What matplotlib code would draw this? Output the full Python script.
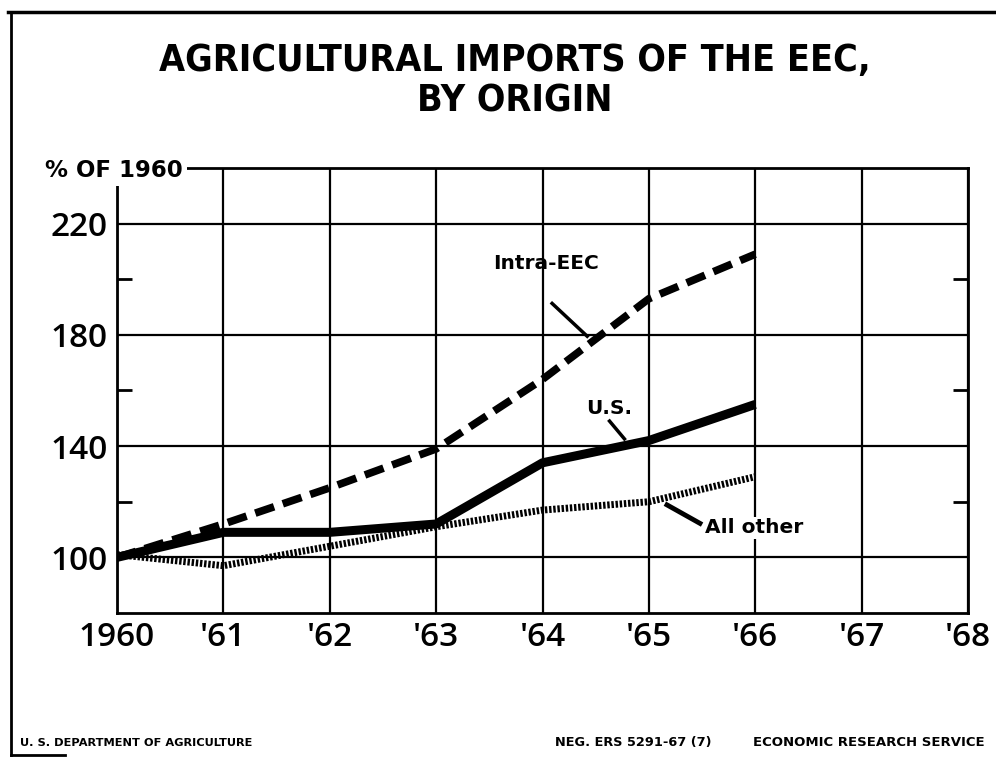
import matplotlib
matplotlib.use("Agg")
import matplotlib.pyplot as plt
from matplotlib.lines import Line2D

years = [1960, 1961, 1962, 1963, 1964, 1965, 1966]
intra_eec = [100, 112, 125, 139, 164, 193, 209]
us = [100, 109, 109, 112, 134, 142, 155]
all_other = [101, 97, 104, 111, 117, 120, 129]

x_ticks = [1960, 1961, 1962, 1963, 1964, 1965, 1966, 1967, 1968]
x_labels = ["1960", "'61", "'62", "'63", "'64", "'65", "'66", "'67", "'68"]
y_ticks = [100, 140, 180, 220]
y_minor = [120, 160, 200]

tick_font = dict(family=["Open Sans", "DejaVu Sans"], weight="semibold")

fig = plt.figure(figsize=(9.96, 7.58), dpi=100)
ax = fig.add_axes([0.1175, 0.1913, 0.9719 - 0.1175, 0.7784 - 0.1913])

ax.set_xlim(1960, 1968)
ax.set_ylim(80, 240)
ax.set_xticks(x_ticks)
ax.set_xticklabels(x_labels, fontsize=24, **tick_font)
ax.set_yticks(y_ticks)
ax.set_yticklabels([str(v) for v in y_ticks], fontsize=24, **tick_font)
ax.set_yticks(y_minor, minor=True)
ax.tick_params(axis="x", which="major", length=0, pad=6)
ax.tick_params(axis="y", which="major", length=0, pad=7)
ax.tick_params(axis="y", which="minor", direction="in", length=11, width=2,
               left=True, right=True)
ax.grid(True, which="major", color="black", linewidth=1.6)
for s in ax.spines.values():
    s.set_linewidth(2)
ax.set_axisbelow(True)

ax.plot(years, intra_eec, color="black", linewidth=5.5,
        linestyle=(0, (2.6, 1.2)), dash_capstyle="butt", zorder=3)
ax.plot(years, us, color="black", linewidth=6.5, solid_capstyle="butt", zorder=3)
ax.plot(years, all_other, color="black", linewidth=5,
        linestyle=(0, (0.35, 0.25)), dash_capstyle="butt", zorder=3)

# labels
ax.text(1964.03, 205.6, "Intra-EEC", fontsize=14.5, fontweight="bold",
        ha="center", va="center")
ax.text(1964.63, 153.4, "U.S.", fontsize=14.5, fontweight="bold",
        ha="center", va="center")
ax.text(1965.53, 110.7, "All other", fontsize=14.5, fontweight="bold",
        ha="left", va="center", zorder=5,
        bbox=dict(facecolor="white", edgecolor="none", pad=1))
ax.plot([1964.09, 1964.42], [191.3, 179.5], color="black", linewidth=2.5, zorder=4)
ax.plot([1964.63, 1964.77], [149.0, 142.6], color="black", linewidth=2.5, zorder=4)
ax.plot([1965.15, 1965.5], [119.3, 111.8], color="black", linewidth=3.5,
        solid_capstyle="butt", zorder=4)

ax.text(1959.32, 239.0, "% OF 1960", fontsize=16.5, fontweight="bold",
        ha="left", va="center", zorder=6, clip_on=False,
        bbox=dict(facecolor="white", edgecolor="none", pad=3))

title_font = dict(family=["DejaVu Sans"], fontweight="bold",
                  fontstretch="condensed")
fig.text(0.517, 0.920, "AGRICULTURAL IMPORTS OF THE EEC,", fontsize=27,
         ha="center", va="center", **title_font)
fig.text(0.517, 0.866, "BY ORIGIN", fontsize=27,
         ha="center", va="center", **title_font)

fig.text(0.020, 0.020, "U. S. DEPARTMENT OF AGRICULTURE", fontsize=8.2,
         fontweight="bold", ha="left", va="center")
fig.text(0.557, 0.020, "NEG. ERS 5291-67 (7)", fontsize=9.3,
         fontweight="bold", ha="left", va="center")
fig.text(0.989, 0.020, "ECONOMIC RESEARCH SERVICE",
         fontsize=9.5, fontweight="bold", ha="right", va="center")

# frame
fig.add_artist(Line2D([0.008, 1.0], [0.984, 0.984], color="black", linewidth=2.5,
                      transform=fig.transFigure))
fig.add_artist(Line2D([0.011, 0.011], [0.984, 0.004], color="black", linewidth=2,
                      transform=fig.transFigure))
fig.add_artist(Line2D([0.011, 0.065], [0.004, 0.004], color="black", linewidth=2,
                      transform=fig.transFigure))

fig.savefig("out.png", dpi=100)
